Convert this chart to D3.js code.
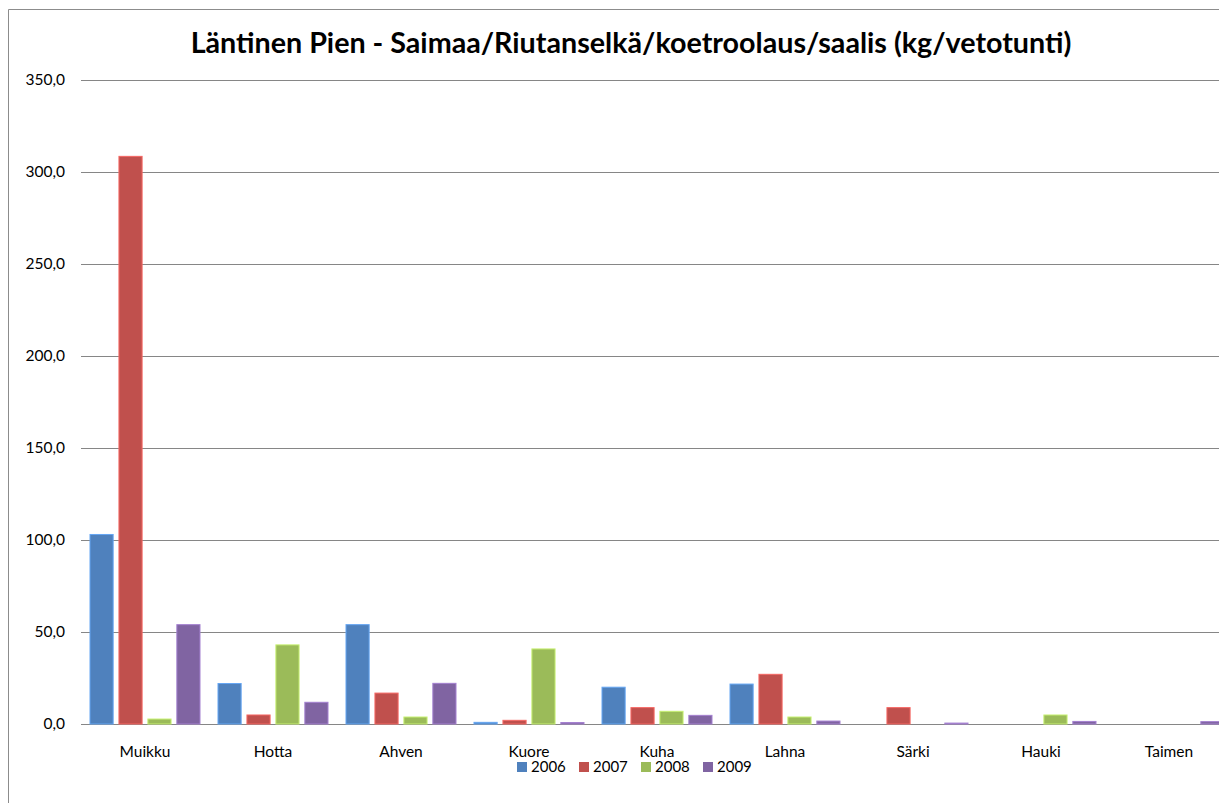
<!DOCTYPE html>
<html>
<head>
<meta charset="utf-8">
<script src="https://d3js.org/d3.v7.min.js"></script>
<style>
  body { margin: 0; background: #fff; }
  text { font-family: Lato, "Open Sans", sans-serif; fill: #000; }
</style>
</head>
<body>
<div id="chart"></div>
<script>
// chart data
var categories = ["Muikku", "Hotta", "Ahven", "Kuore", "Kuha", "Lahna", "Särki", "Hauki", "Taimen"];
var years = ["2006", "2007", "2008", "2009"];
var values2006 = [103, 22, 54, 0.9, 20, 21.7, 0, 0, 0];
var values2007 = [308.5, 4.9, 16.8, 2.0, 8.9, 27, 8.9, 0, 0];
var values2008 = [2.7, 43, 3.8, 40.8, 6.9, 3.8, 0, 4.9, 0];
var values2009 = [54, 11.8, 22.1, 0.8, 4.7, 1.6, 0.5, 1.4, 1.3];
var yTicks = [0, 50, 100, 150, 200, 250, 300, 350];
var colors = ["#4F81BD", "#C0504D", "#9BBB59", "#8064A2"];
var title = "Läntinen Pien - Saimaa/Riutanselkä/koetroolaus/saalis (kg/vetotunti)";

var series = [values2006, values2007, values2008, values2009];

var svgWidth = 1219;
var svgHeight = 803;
var margin = { top: 80, left: 81 };
var plotWidth = 1152;   // wider than the window, chart is cropped on the right
var plotHeight = 644;

var svg = d3.select("#chart")
  .append("svg")
  .attr("width", svgWidth)
  .attr("height", svgHeight);

// chart area border (only left and top visible, the rest is cropped)
svg.append("path")
  .attr("d", "M8.5," + svgHeight + "V9.5H" + svgWidth)
  .attr("fill", "none")
  .attr("stroke", "#8c8c8c")
  .attr("stroke-width", 1);

var g = svg.append("g")
  .attr("transform", "translate(" + margin.left + "," + margin.top + ")");

var xScale = d3.scaleBand()
  .domain(categories)
  .range([0, plotWidth]);

var xInner = d3.scaleBand()
  .domain(years)
  .range([9, 119])
  .paddingInner(0.2);

var yScale = d3.scaleLinear()
  .domain([0, 350])
  .range([plotHeight, 0]);

// gridlines
g.append("g")
  .selectAll("line")
  .data(yTicks)
  .enter()
  .append("line")
  .attr("x1", 0)
  .attr("x2", plotWidth)
  .attr("y1", d => Math.round(yScale(d)) + 0.5)
  .attr("y2", d => Math.round(yScale(d)) + 0.5)
  .attr("stroke", "#868686")
  .attr("stroke-width", 1);

// y tick labels
g.append("g")
  .selectAll("text")
  .data(yTicks)
  .enter()
  .append("text")
  .attr("x", -16)
  .attr("y", d => yScale(d))
  .attr("dy", "0.35em")
  .attr("text-anchor", "end")
  .style("font-size", "15.5px")
  .text(d => d3.format(".1f")(d).replace(".", ","));

// bars
var groups = g.append("g")
  .selectAll("g")
  .data(series)
  .enter()
  .append("g")
  .attr("fill", (d, i) => colors[i])
  .attr("stroke", (d, i) => d3.color(colors[i]).brighter(0.7))
  .attr("stroke-width", 1);

groups.each(function(vals, si) {
  d3.select(this).selectAll("rect")
    .data(vals.map((v, ci) => ({ cat: categories[ci], value: v })).filter(d => d.value > 0))
    .enter()
    .append("rect")
    .attr("x", d => xScale(d.cat) + xInner(years[si]))
    .attr("width", xInner.bandwidth())
    .attr("y", d => yScale(d.value))
    .attr("height", d => plotHeight - yScale(d.value));
});

// category labels
g.append("g")
  .selectAll("text")
  .data(categories)
  .enter()
  .append("text")
  .attr("x", d => xScale(d) + xScale.bandwidth() / 2)
  .attr("y", plotHeight + 33)
  .attr("text-anchor", "middle")
  .style("font-size", "15.5px")
  .text(d => d);

// title, scaled to the width of the original
var titleText = svg.append("text")
  .attr("x", 631)
  .attr("y", 53)
  .attr("text-anchor", "middle")
  .style("font-weight", "bold")
  .style("font-size", "28px")
  .text(title);
var tw = titleText.node().getComputedTextLength();
titleText.style("font-size", (28 * 881 / tw) + "px");

// legend
var legend = svg.append("g")
  .selectAll("g")
  .data(years)
  .enter()
  .append("g")
  .attr("transform", (d, i) => "translate(" + (517 + i * 62) + ",762)");

legend.append("rect")
  .attr("width", 10)
  .attr("height", 10)
  .attr("fill", (d, i) => colors[i]);

legend.append("text")
  .attr("x", 14)
  .attr("y", 5)
  .attr("dy", "0.35em")
  .style("font-size", "15px")
  .text(d => d);
</script>
</body>
</html>
